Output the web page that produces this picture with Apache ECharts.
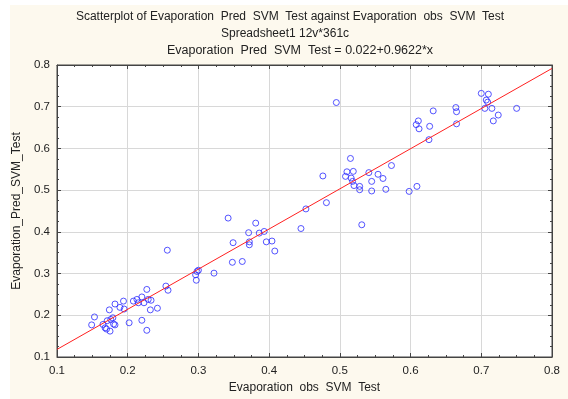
<!DOCTYPE html>
<html>
<head>
<meta charset="utf-8">
<script src="https://cdn.jsdelivr.net/npm/echarts@6/dist/echarts.min.js"></script>
<style>html,body{margin:0;padding:0;background:#fff;}#c{width:568px;height:399px;}</style>
</head>
<body>
<div id="c"></div>
<script>
// observed (x) values
const obsX = [
0.254,0.257,0.227,0.194,0.182,0.189,0.195,0.174,0.153,0.179,0.176,0.171,0.180,0.182,0.165,0.149,0.168,0.170,0.175,0.202,0.220,0.227,0.208,0.213,0.220,0.215,0.223,0.229,0.233,0.232,0.242,
0.256,0.300,0.298,0.296,0.297,0.322,0.342,0.349,0.348,0.362,0.381,0.371,0.386,0.393,0.372,0.372,0.396,0.404,0.408,0.445,0.452,0.481,0.531,
0.476,0.515,0.510,0.519,0.508,0.541,0.554,0.561,0.516,0.518,0.545,0.520,0.528,0.528,0.545,0.565,0.598,0.609,0.573,0.495,
0.626,0.611,0.608,0.612,0.627,0.632,0.664,0.665,0.665,0.700,0.710,0.707,0.709,0.705,0.715,0.750,0.724,0.717
];
// predicted (y) values
const predY = [
0.270,0.260,0.262,0.234,0.227,0.219,0.215,0.213,0.196,0.194,0.190,0.187,0.179,0.177,0.178,0.177,0.170,0.167,0.162,0.182,0.188,0.164,0.234,0.238,0.244,0.230,0.230,0.238,0.236,0.213,0.217,
0.356,0.308,0.305,0.297,0.284,0.301,0.433,0.374,0.327,0.329,0.421,0.398,0.397,0.401,0.376,0.369,0.376,0.378,0.354,0.408,0.455,0.470,0.417,
0.534,0.576,0.544,0.545,0.533,0.542,0.538,0.528,0.529,0.521,0.521,0.511,0.509,0.501,0.498,0.502,0.497,0.509,0.559,0.710,
0.621,0.666,0.657,0.647,0.653,0.690,0.698,0.688,0.659,0.732,0.730,0.716,0.711,0.696,0.696,0.696,0.680,0.666
];
// regression: y = intercept + slope * x
const intercept = 0.022;
const slope = 0.9622;
const fitRange = [0.1, 0.8];
const tickValues = [0.1,0.2,0.3,0.4,0.5,0.6,0.7,0.8];
const titleLines = [
  "Scatterplot of Evaporation  Pred  SVM  Test against Evaporation  obs  SVM  Test",
  "Spreadsheet1 12v*361c",
  "Evaporation  Pred  SVM  Test = 0.022+0.9622*x"
];
const xName = "Evaporation  obs  SVM  Test";
const yName = "Evaporation_Pred_SVM_Test";

const pts = obsX.map((x,i)=>[x, predY[i]]);
const fit = fitRange.map(x=>[x, intercept + slope*x]);

const font = 'Arial, "Liberation Sans", sans-serif';
const chart = echarts.init(document.getElementById('c'), null, {renderer:'canvas'});

function axisCommon(showLabels){
  return {
    type:'value', min:0.1, max:0.8, interval:0.1,
    axisLine:{show:true, lineStyle:{color:'#444', width:1}},
    axisTick:{show:true, inside:true, length:4, lineStyle:{color:'#444'}},
    minorTick:{show:true, splitNumber:4, length:2, lineStyle:{color:'#444'}},
    minorSplitLine:{show:false},
    axisLabel:{show:showLabels, color:'#222', fontSize:11.5, fontFamily:font, formatter:v=>v.toFixed(1)},
  };
}

chart.setOption({
  backgroundColor:'#ffffff',
  animation:false,
  graphic:[
    {type:'rect', left:10, top:5, shape:{width:558, height:394}, style:{fill:'#fdf9ee'}, z:-10, silent:true},
    {type:'text', x:290, y:11, style:{text:titleLines[0], fontSize:12, fontFamily:font, fill:'#222', align:'center'}},
    {type:'text', x:285, y:28, style:{text:titleLines[1], fontSize:12, fontFamily:font, fill:'#222', align:'center'}},
    {type:'text', x:300, y:44, style:{text:titleLines[2], fontSize:12.5, fontFamily:font, fill:'#222', align:'center'}}
  ],
  grid:{left:57, right:16, top:65, bottom:37, show:true, backgroundColor:'#ffffff', borderColor:'#444', borderWidth:1},
  xAxis:[
    Object.assign(axisCommon(true), {position:'bottom', name:xName, nameLocation:'middle', nameGap:25,
      nameTextStyle:{color:'#222', fontSize:12, fontFamily:font},
      axisLabel:{show:true, color:'#222', fontSize:11.5, fontFamily:font, margin:8, formatter:v=>v.toFixed(1)},
      splitLine:{show:true, lineStyle:{color:'#d8d8d8', width:1}}}),
    Object.assign(axisCommon(false), {position:'top', splitLine:{show:false}})
  ],
  yAxis:[
    Object.assign(axisCommon(true), {position:'left', name:yName, nameLocation:'middle', nameGap:29,
      nameTextStyle:{color:'#222', fontSize:12, fontFamily:font},
      axisLabel:{show:true, color:'#222', fontSize:11.5, fontFamily:font, margin:7, formatter:v=>v.toFixed(1)},
      splitLine:{show:true, lineStyle:{color:'#d8d8d8', width:1}}}),
    Object.assign(axisCommon(false), {position:'right', splitLine:{show:false}})
  ],
  series:[
    {type:'scatter', data:pts, symbol:'circle', symbolSize:6,
     itemStyle:{color:'rgba(0,0,0,0)', borderColor:'#2b2bff', borderWidth:1}, z:3},
    {type:'line', data:fit, symbol:'none', lineStyle:{color:'#ff2020', width:1}, z:4, silent:true}
  ]
});
</script>
</body>
</html>
